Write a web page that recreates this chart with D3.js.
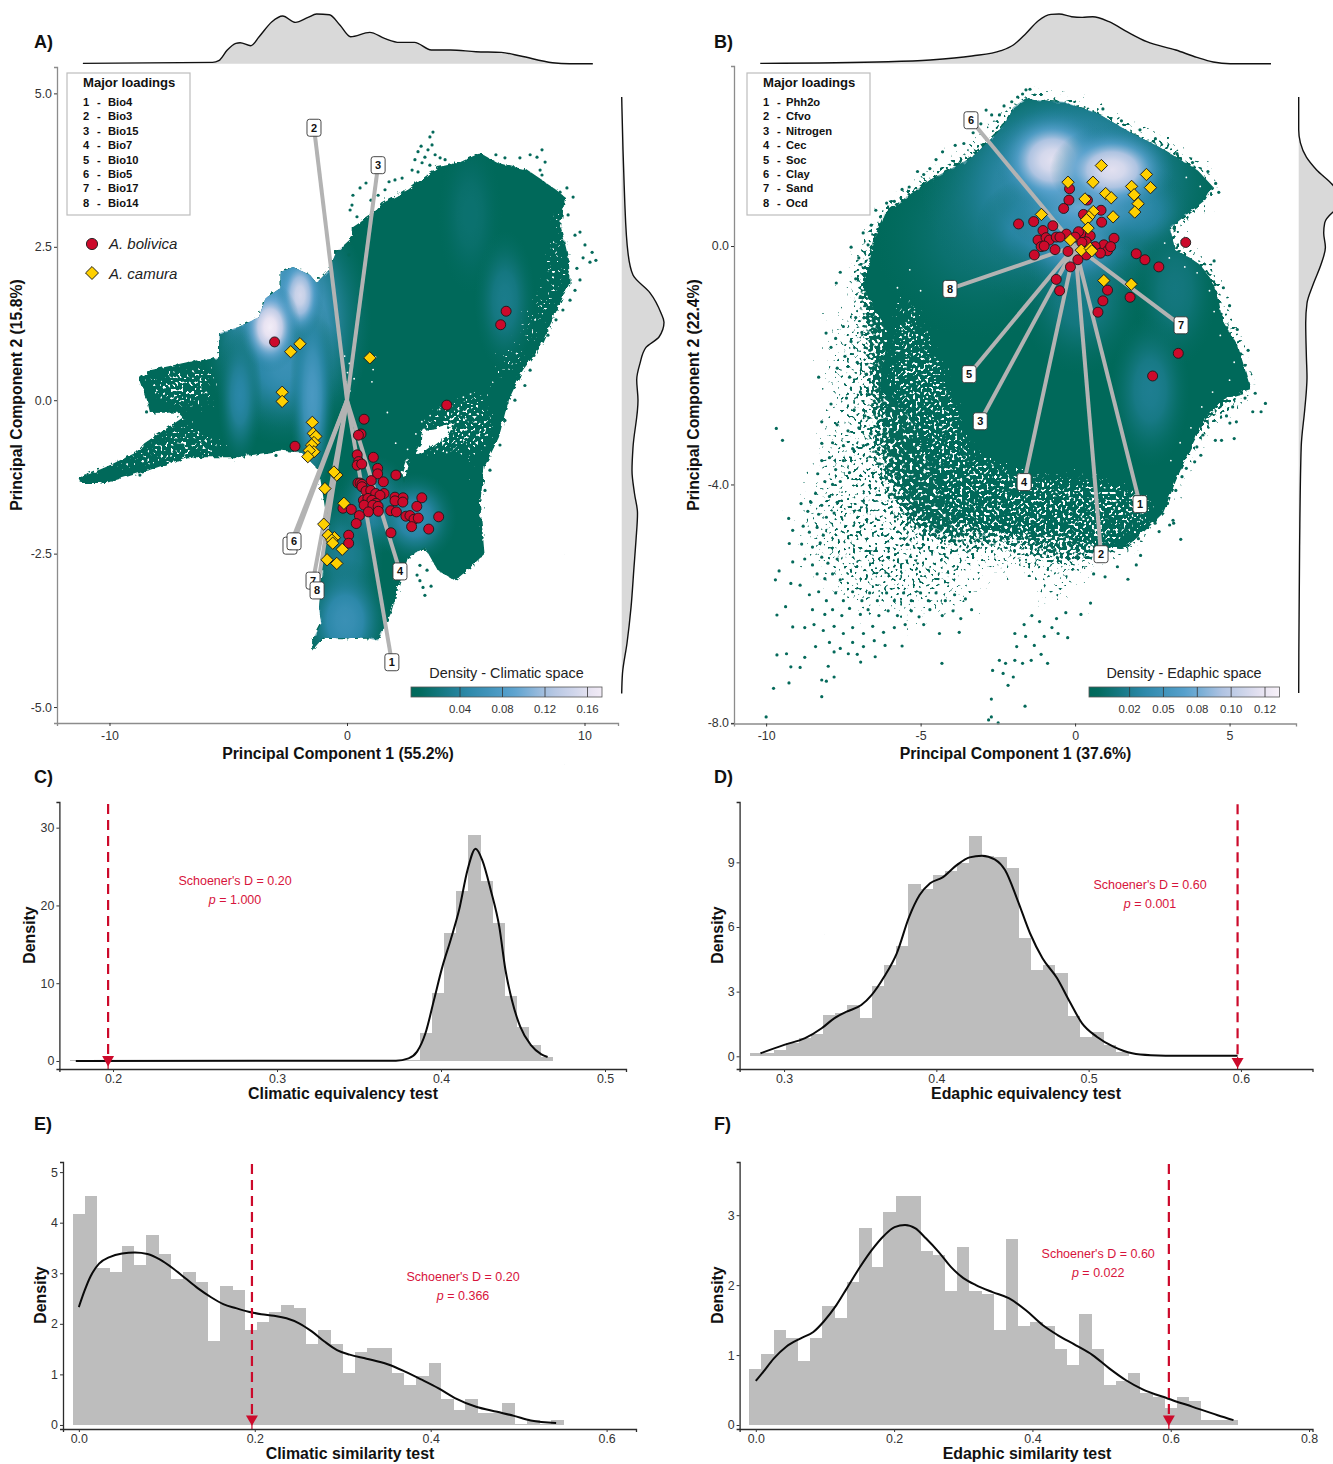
<!DOCTYPE html>
<html><head><meta charset="utf-8">
<script src="https://cdn.jsdelivr.net/npm/d3@7/dist/d3.min.js"></script>
<style>html,body{margin:0;background:#fff}svg{display:block}text{font-family:"Liberation Sans",Arial,sans-serif}</style>
</head><body><div id="c"></div>
<script>
// ---------- DATA: panel A ----------
const loadNamesA=["Bio4","Bio3","Bio15","Bio7","Bio10","Bio5","Bio17","Bio14"];
const loadNamesB=["Phh2o","Cfvo","Nitrogen","Cec","Soc","Clay","Sand","Ocd"];
const loadEndsA=[[1.89,-4.27],[-1.39,4.44],[1.31,3.83],[2.23,-2.79],[-2.4,-2.37],[-2.23,-2.3],[-1.43,-2.94],[-1.26,-3.1]];
const loadEndsB=[[2.1,-4.33],[.84,-5.17],[-3.07,-2.94],[-1.65,-3.96],[-3.43,-2.15],[-3.37,2.11],[3.43,-1.33],[-4.05,-.72]];
const hullA=[[-11.3,-1.27],[-10.95,-1.22],[-10.15,-1.09],[-8.88,-.85],[-8.53,-.7],[-6.91,-.28],[-7.12,-.2],[-8.29,-.21],[-8.42,0],[-8.72,.33],[-8.29,.49],[-6.74,.62],[-5.39,.69],[-5.39,1.09],[-4.59,1.19],[-3.71,1.35],[-3.43,1.66],[-2.8,1.83],[-2.8,2.09],[-2.27,2.17],[-1.56,2.04],[-1.28,1.91],[-.76,2.12],[-.46,2.41],[.24,2.66],[.24,2.82],[1.14,3.05],[1.49,3.21],[2.57,3.43],[3.28,3.64],[3.83,3.8],[4.72,3.87],[5.6,4.03],[6.32,3.87],[7.58,3.75],[8.65,3.47],[9.18,3.31],[9.01,2.82],[9.35,2.28],[9.37,1.91],[8.65,1.31],[8.13,.86],[7.4,.49],[6.86,.05],[6.69,-.16],[6.4,-.6],[5.79,-1.09],[5.6,-1.68],[5.79,-2.5],[5.07,-2.77],[4.53,-2.94],[3.82,-2.77],[3.28,-2.4],[2.57,-2.56],[2.21,-2.99],[1.85,-3.47],[1.31,-3.92],[.78,-3.87],[-.29,-3.88],[-1.01,-3.87],[-1.47,-4.08],[-1.47,-3.92],[-1.09,-3.64],[-1.18,-3.38],[-1.01,-2.72],[-.84,-1.96],[-1.18,-1.14],[-1.89,-.86],[-2.8,-.82],[-4.59,-.93],[-6.74,-.93],[-8.34,-1.14],[-10.15,-1.35],[-11.2,-1.35]];
const holesA=[[[3.12,-.49],[3.64,-.46],[4.55,-.36],[4.25,-.57],[3.28,-.85],[2.82,-.86],[3.12,-.7]],[[2.48,-.98],[2.65,-.98],[2.4,-1.35],[2.3,-1.19]]];
const densityA=[[-2.61,1.3,2.7,1.5,.095],[-2.6,.55,1.9,.75,.06],[-4.51,.08,.7,.85,.045],[-1.47,.08,.7,1.3,.075],[5.18,3.02,1,.95,.012],[6.65,1.63,.95,.85,.028],[-.08,-2.53,1.2,.85,.032],[1.18,-1.71,1.2,.6,.045],[2.86,-1.92,1.3,.55,.055],[-.08,-3.59,1.4,.75,.06],[-1.98,1.71,.75,.55,.15],[-3.24,1.19,.95,.55,.175]];
const dotsA=[[3.62,4.37],[3.49,4.29],[3.58,4.16],[3.12,4.14],[3.41,4.08],[2.99,4.05],[3.71,4],[3.28,3.96],[3.92,3.95],[2.86,3.92],[3.16,3.87],[3.49,3.83],[4.13,3.92],[4.46,3.83],[2.74,3.75],[2.99,3.72],[6.27,4],[6.65,3.95],[7.28,3.95],[7.71,4],[8.21,4.08],[8,3.96],[8.34,3.88],[8.13,3.75],[8.21,3.67],[8.97,3.39],[9.26,3.46],[9.52,3.31],[9.31,3.02],[9.6,2.69],[9.81,2.74],[10.02,2.53],[10.32,2.41],[10.48,2.28],[10.23,2.25],[9.94,2.32],[9.68,2.15],[9.81,1.96],[9.6,1.79],[9.39,1.63],[9.09,1.47],[8.8,1.31],[8.46,1.06],[7.87,.73],[7.71,.49],[7.49,.24],[7.07,0],[6.65,-.33],[6.44,-.73],[5.81,-1.47],[6.02,-1.14],[.42,2.69],[.13,2.56],[.08,2.37],[.42,2.99],[.21,3.18],[.13,3.1],[.55,3.46],[.8,3.54],[.25,3.34],[.63,2.85],[1.01,3.26],[1.31,3.34],[1.77,3.56],[2.02,3.59],[2.32,3.62],[1.6,3.43],[3.37,-2.77],[3.07,-2.94],[3.28,-3.18],[3.54,-3.03],[3.2,-3.05],[2.95,-2.85],[3.07,-2.69],[-8.72,-1.22],[-7.45,-.16],[-8.44,-.19],[-6.92,-.21],[-2.99,-.9]];
const specksA=[[-.1,.72],[.1,.6],[.02,.45],[.3,.35],[-.05,.3],[.12,.15],[1.1,.5],[1.2,.7],[1.05,.3],[5.2,.1],[5,-.3],[4.7,-.15],[4.9,.05],[4.4,-.1],[3.9,-.15],[3.5,-.25],[3.15,-.35],[2.9,-.55],[2.55,-.8],[3.8,-.8],[4.2,-.85],[4.6,-.7],[2.05,-.7],[1.7,-.2]];
const whiteZonesA=[[[-8.7,.33],[-8.4,0],[-7.2,-.2],[-5.4,-.1],[-5.4,.7],[-6.7,.62],[-8.3,.49]],[[-11.3,-1.3],[-8.5,-.7],[-6.9,-.3],[-5.5,-.5],[-4.5,-.9],[-8.3,-1.15]],[[6,0],[7.3,.5],[8.5,1.3],[9.3,2],[9.2,3.2],[8.5,3.3],[8.2,2],[7,1],[5.6,.2]],[[3,-.2],[5.2,.2],[6.5,-.3],[5.8,-1],[4.5,-.9],[3,-1]],[[5.2,-1],[5.7,-1.2],[5.7,-2.5],[5.1,-2.6]]];
const boliviaA=[[-3.05,.95],[6.7,1.45],[6.47,1.23],[4.2,-.08],[.72,-.31],[.59,-.55],[.48,-.57],[-2.19,-.75],[.43,-.89],[1.11,-.93],[.49,-1],[.43,-1.06],[.62,-1.04],[1.29,-1.11],[1.29,-1.2],[2.06,-1.22],[1.02,-1.31],[1.53,-1.33],[.46,-1.35],[.55,-1.35],[.63,-1.37],[.63,-1.41],[.8,-1.48],[1,-1.47],[1.21,-1.52],[1.56,-1.52],[1.39,-1.55],[2.02,-1.58],[2.36,-1.59],[3.15,-1.59],[2.02,-1.64],[2.35,-1.66],[2.94,-1.73],[.69,-1.63],[.88,-1.6],[1.05,-1.63],[1.22,-1.68],[.72,-1.71],[1.09,-1.71],[1.31,-1.73],[-.17,-1.76],[.18,-1.78],[.9,-1.82],[1.32,-1.81],[1.84,-1.8],[2.08,-1.82],[2.48,-1.89],[2.65,-1.88],[2.82,-1.94],[3,-1.92],[2.72,-2.06],[3.86,-1.9],[3.44,-2.1],[.52,-1.88],[.39,-2.01],[1.85,-2.16],[.07,-2.2],[.07,-2.33]];
const camuraA=[[-2.37,.79],[-1.98,.92],[.96,.69],[-2.73,.13],[-2.73,-.02],[-1.46,-.36],[-1.42,-.54],[-1.31,-.59],[-1.39,-.69],[-1.49,-.73],[-1.39,-.84],[-1.59,-.82],[-1.65,-.92],[-.43,-1.22],[-.55,-1.17],[-.93,-1.44],[-.13,-1.68],[-.98,-2.02],[-.79,-2.2],[-.53,-2.24],[-.64,-2.28],[-.6,-2.33],[-.2,-2.43],[-.84,-2.6],[-.43,-2.66]];
const topA=[[-11.12,.3],[-5.66,1.3],[-5.4,3],[-5.04,13.7],[-4.68,20.3],[-4.5,21],[-4.05,18],[-3.7,27],[-3.16,42],[-2.71,47.7],[-2.17,41.3],[-1.64,46.3],[-1.28,49.7],[-.74,49],[-.3,38.7],[.15,27],[.96,31.3],[1.58,25.3],[2.21,21.3],[2.84,21.3],[3.55,13.7],[4.36,13.7],[5.43,12],[6.5,11.3],[7.31,7.7],[8.65,1],[9.37,0],[10.35,0]];
const rightA=[[4.94,0],[4.08,1.3],[3.59,2.3],[3.26,3],[2.4,6.3],[2.04,11.3],[1.75,28.3],[1.42,39.3],[1.27,42.3],[1.03,37.3],[.86,24.3],[.6,18.3],[.33,15],[0,16.3],[-.77,11.3],[-1.14,10.3],[-1.52,12.8],[-1.84,15.8],[-2.28,14.3],[-2.72,12.3],[-3.38,9.3],[-3.96,5.3],[-4.45,.8],[-4.78,0]];
// ---------- DATA: panel B ----------
const hullB=[[-2.01,2.33],[-1.59,2.48],[-1.33,2.45],[-.39,2.42],[.71,2.23],[1.78,1.91],[2.72,1.66],[3.95,1.28],[4.47,.99],[4.21,.77],[3.4,.44],[3.07,.3],[3.24,-.07],[3.72,-.2],[4.05,-.32],[4.34,-.52],[4.61,-.79],[4.76,-1.24],[5.28,-1.69],[5.7,-2.42],[4.76,-2.58],[4.21,-2.92],[3.66,-3.47],[3.27,-3.93],[2.85,-4.48],[2.18,-4.82],[1.65,-5.05],[.71,-5.05],[-.65,-4.82],[-1.59,-4.82],[-2.4,-4.8],[-4.01,-4.6],[-4.56,-3.93],[-5.24,-2.92],[-6.31,-2.42],[-6.31,-2.3],[-6.05,-1.46],[-6.86,-.69],[-6.44,.22],[-6.18,.55],[-4.69,1.11],[-3.33,1.49],[-2.52,1.9],[-2.14,2.16]];
const cloudB=[[-6.5,.4],[-7.2,-.5],[-6.95,-1.5],[-6.75,-2.8],[-6.4,-3.8],[-5.6,-4.7],[-4.6,-5],[-3.4,-5.1],[-2.4,-5.05],[-1.4,-5.2],[-.6,-5.35],[.6,-5.3],[2,-5],[3,-4.2],[3.6,-3.5],[4.3,-3],[5.3,-2.6],[5.8,-2.4],[5.3,-1.6],[4.8,-1],[4.5,-.4],[4.1,-.25],[3.2,0],[3.2,.4],[4.3,.75],[4.6,1],[4,1.35],[2.8,1.75],[1.7,2],[.7,2.3],[-.4,2.5],[-1.5,2.55],[-2.1,2.3],[-2.6,2],[-3.4,1.6],[-4.7,1.2],[-6.2,.65]];
const sparseZoneB=[[-6.9,-.5],[-7.5,-.6],[-8.2,-1.5],[-8.33,-3.37],[-9.14,-4.77],[-8.2,-5.83],[-6.98,-6.28],[-3.34,-6.28],[-3.07,-5.61],[-2.4,-5.3],[-1.59,-5.83],[-.92,-6.44],[.43,-5.83],[.7,-5.38],[2,-4.8],[-4,-4],[-6,-1.5]];
const whiteZonesB=[[[-6.3,-2.4],[-6,-1.4],[-5.8,-.5],[-5,-1],[-4,-2.2],[-3.2,-3.4],[-1,-3.8],[1,-3.8],[2.2,-4],[2.9,-4.6],[1,-5.2],[-2.5,-5.2],[-4.2,-4.8],[-5.2,-3.2]]];
const densityB=[[-3,.2,2.6,1.3,.012],[.2,-.8,1.5,1,.02],[-.16,1.02,3.6,1.55,.055],[3.24,-.74,1,.95,.016],[2.43,-2.42,.95,.95,.024],[-1.29,.35,1.4,.6,.045],[0,.18,1.6,.7,.07],[2.1,.6,1.2,.55,.04],[.32,.94,2.2,.85,.08],[-.74,1.44,1.4,.65,.12],[1.2,1.28,1.5,.55,.12]];
const dotsB=[[-8.3,-2.2],[-8.06,-1.46],[-7.9,-1.7],[-7.75,-1.55],[-7.7,-2.05],[-7.5,-1.35],[-7.45,-1.85],[-7.3,-2.2],[-7.25,-1.6],[-7.1,-1.2],[-7.05,-1.95],[-6.95,-2.45],[-6.9,-1.45],[-6.8,-1],[-6.75,-2.15],[-6.65,-1.75],[-6.55,-1.25],[-6.5,-2.6],[-6.45,-2],[-7.73,-.62],[-7.6,-.44],[-7.25,-.02],[-7.1,-.55],[-7,-.2],[-6.95,-.85],[-6.86,.22],[-6.7,.02],[-6.6,.35],[-6.3,.49],[-6.45,.6],[-6.1,.72],[-5.85,.75],[-5.37,.99],[-5.6,.95],[-5.1,1.25],[-4.9,1.2],[-4.7,1.3],[-4.29,1.58],[-4.5,1.45],[-3.88,1.69],[-3.6,1.72],[-3.3,1.9],[-3.05,2.05],[-2.88,2.28],[-2.7,2.2],[-2.45,2.2],[-2.3,2.35],[-1.59,2.62],[-1.46,2.63],[-1.86,2.5],[-1.7,2.55],[-2.05,2.42],
[-7.9,-2.65],[-7.4,-2.55],[-7.15,-2.75],[-6.8,-2.85],[-6.4,-2.7],[-6.1,-2.9],[-8.2,-2.95],[-7.7,-3],[-7.35,-3.1],[-7,-3.05],[-6.6,-3.15],[-6.25,-3.25],[-5.9,-3.1],[-5.6,-3.3],[-8.2,-3.31],[-7.85,-3.3],[-7.5,-3.35],[-7.2,-3.4],[-6.85,-3.35],[-6.45,-3.45],[-6.05,-3.5],[-5.75,-3.55],[-5.3,-3.45],[-9.67,-3.06],[-9.47,-3.26],[-5.5,-3.1],
[-8.33,-3.82],[-8.2,-3.6],[-7.95,-3.55],[-7.75,-3.75],[-7.5,-3.6],[-7.3,-3.8],[-8.1,-3.95],[-7.85,-4],[-7.6,-3.95],[-8.87,-4.32],[-8.55,-4.3],[-8.4,-4.15],[-8.2,-4.35],[-7.95,-4.2],[-7.7,-4.3],[-8.65,-4.45],[-8.3,-4.5],[-8.05,-4.55],[-7.8,-4.48],
[-9.27,-4.57],[-9.14,-4.77],[-8.8,-4.7],[-8.6,-4.8],[-8.35,-4.72],[-8.15,-4.85],[-9.25,-4.99],[-8.85,-5],[-8.5,-5.05],[-8.25,-4.98],
[-9.14,-5.3],[-8.75,-5.25],[-8.5,-5.35],[-8.2,-5.22],[-8,-5.32],[-7.7,-5.25],[-9.58,-5.45],[-9.7,-5.6],[-9.2,-5.66],[-8.9,-5.69],[-8.35,-5.5],[-8.1,-5.58],[-7.85,-5.5],[-7.6,-5.6],
[-8.6,-5.85],[-8.3,-5.8],[-8.05,-5.95],[-7.75,-5.82],[-7.5,-5.95],[-7.2,-5.8],[-6.9,-5.95],[-6.65,-5.82],[-6.4,-5.95],[-6.1,-5.82],[-5.85,-5.95],[-5.55,-5.82],[-5.3,-5.95],[-5,-5.82],[-4.75,-5.95],[-4.5,-5.82],[-4.2,-5.95],[-3.9,-5.85],[-3.55,-5.92],[-9.37,-6.05],[-9.65,-6.19],[-8.5,-6.1],[-8.1,-6.18],[-7.85,-6.1],[-7.55,-6.2],[-7.3,-6.08],[-6.95,-6.18],[-6.7,-6.1],[-6.35,-6.2],[-6.05,-6.12],[-5.75,-6.2],[-5.3,-6.12],[-5.05,-6.22],[-4.7,-6.1],[-4.3,-6.2],[-3.95,-6.12],[-3.35,-6.1],[-3.7,-6.25],
[-9.14,-6.39],[-8.75,-6.4],[-8.45,-6.35],[-8.15,-6.45],[-7.8,-6.38],[-7.5,-6.5],[-7.2,-6.4],[-6.85,-6.5],[-6.55,-6.38],[-6.2,-6.48],[-5.85,-6.4],[-5.5,-6.35],[-4.9,-6.35],[-4.39,-6.5],[-3.75,-6.48],[-8.4,-6.72],[-7.95,-6.65],[-7.6,-6.75],[-7.2,-6.65],[-6.85,-6.72],[-6.5,-6.62],[-6.15,-6.7],[-5.6,-6.71],[-9.65,-6.86],[-9.34,-6.84],[-7.8,-6.81],[-7.34,-6.84],[-6.94,-6.98],[-6.47,-6.89],[-7.05,-6.85],[-8.75,-6.9],[-9.2,-7.06],[-8.9,-7.07],[-7.99,-7.05],[-7.8,-7.23],[-8.2,-7.28],[-8.2,-7.56],[-8.05,-7.3],[-9.26,-7.33],[-9.76,-7.42],[-10,-7.9],[-4.31,-7],
[1.71,-5.59],[1.98,-5.35],[2.12,-5.19],[3.42,-4.92],[3.17,-4.6],[1.37,-5.38],[.97,-5.55],[.6,-5.5],[.5,-5.99],[.19,-6.18],[-.3,-6.15],[-.6,-6.25],[-.55,-6.5],[-.75,-6.4],[-1,-6.55],[-1.32,-6.7],[-1.6,-6.55],[-.24,-6.57],[-1.89,-6.72],[-1.95,-6.5],[-1.1,-6.85],[-1.42,-6.95],[-.89,-7],[-2.67,-7.12],[-2.33,-7.17],[-2,-7.23],[-2.17,-7.37],[-2.71,-7.6],[-1.62,-7.72],[-2.8,-7.95],[-2.49,-8],[-2.71,-7.9],[-2.25,-7],[-1.7,-7],[-1.95,-6.95],[-2.45,-6.95],[-1.4,-6.2],[-1.15,-6.3],[-1.65,-6.35],
[5.83,-2.47],[6.16,-2.64],[6.02,-2.78],[5.75,-2.78],[5.22,-2.95],[5.01,-2.97],[5.15,-3.23],[4.74,-3.26],[4.54,-3.26],[4.14,-3.17],[3.94,-3.37],[4.07,-3.51],[3.87,-3.62],[3.6,-3.73],[3.46,-3.87],[3.26,-4.1],[2.99,-4.32],[3.19,-4.65],[3.06,-4.68],[2.72,-4.79],[2.59,-4.65],[2.05,-4.91],[1.71,-5.02],[5.5,-2.55],[5.1,-2.7],[4.9,-2.85],[5.5,-2],[5.6,-1.75],[5.25,-1.4],[5,-1],[4.8,-.7],[4.5,-.25],[4.65,.9],[4.55,1.05],[4.3,1.25],[3.8,1.4],[3.3,1.55],[2.6,1.8],[2.1,1.95],[1.5,2.1],[.9,2.3]];
const specksB=[[-5.8,-2.2],[-5.4,-1.9],[-5.5,-2.5],[-5.1,-2.25],[-4.8,-2.6],[-5.6,-1.4],[-5.2,-1.1],[-5.75,-.7],[-5.35,-.4],[-5,-.75],[2.9,.05],[3.05,-.2],[3.3,.15],[3.55,-.35],[3.95,-.45],[3.6,1.15],[4.05,1],[4.5,-1.1],[4.35,-.75],[5,-2.25],[5.15,-1.95],[4.7,-1.5],[3.1,-3.6],[3.4,-3.3],[3.75,-3.05],[4.1,-2.7],[4.45,-2.45]];
const boliviaB=[[-.18,.96],[.4,.77],[-.2,.77],[-.37,.63],[.27,.53],[.84,.6],[.86,.4],[-1.83,.37],[-1.34,.41],[-.72,.34],[-1.04,.26],[-.28,.2],[.19,.21],[.11,.24],[.49,.17],[1.26,.13],[-1.2,.1],[-.94,.14],[-.83,.1],[-.61,.15],[-.49,.15],[0,.15],[.36,.07],[.22,.06],[-1.1,-.01],[-1,0],[-.65,-.06],[-.23,-.09],[-1.32,-.15],[.93,.02],[1.05,-.08],[1.15,-.01],[.65,-.01],[.82,-.12],[.36,-.15],[.09,-.23],[-.15,-.35],[1.98,-.13],[2.26,-.23],[2.71,-.35],[-.61,-.56],[-.5,-.75],[1.05,-.74],[.9,-.92],[.74,-1.11],[1.78,-.86],[3.58,.06],[3.34,-1.8],[2.51,-2.18]];
const camuraB=[[.85,1.35],[-.23,1.07],[.58,1.07],[2.31,1.2],[2.44,.98],[1.83,1],[1.91,.86],[.99,.88],[1.17,.81],[.32,.79],[2.04,.71],[1.93,.57],[-1.09,.53],[.59,.58],[.45,.49],[.37,.44],[1.23,.49],[.42,.3],[-.15,.1],[.2,-.07],[.49,-.04],[.54,-.08],[.93,-.58],[1.82,-.64]];
const topB=[[-10.19,.3],[-6.05,2],[-4.69,3.7],[-3.34,7.7],[-2.4,13],[-2,18.7],[-1.59,30.3],[-1.19,43],[-.78,49.3],[-.52,49.7],[-.11,47],[.23,46.3],[.57,47],[1.1,42],[1.72,31.3],[2.32,22],[3.26,13.7],[3.94,6.3],[4.47,1.7],[5.02,0],[6.34,0]];
const rightB=[[2.5,0],[1.95,0],[1.73,1.7],[1.49,7.7],[1.28,17.7],[1.02,34.3],[.82,41],[.69,44],[.57,34.3],[.39,26],[.22,25],[-.02,26.7],[-.29,22.7],[-.65,14.3],[-.96,8.3],[-1.29,7],[-1.86,7.7],[-2.2,8.3],[-2.42,7.7],[-2.75,6],[-3.37,2.5],[-5.05,.9],[-7.5,0]];
// ---------- DATA: colour legend ----------
const legendTicksA=[.04,.08,.12,.16], legendLabelsA=["0.04","0.08","0.12","0.16"];
const legendTicksB=[.025,.05,.075,.1,.125], legendLabelsB=["0.02","0.05","0.08","0.10","0.12"];
const colourStopsA=[0,.045,.09,.125,.165,.18];
const colourStopsB=[0,.034,.068,.094,.124,.135];
const colourRange=["#00695a","#2a87a8","#5aa2cf","#b1c4e2","#e9e4f2","#f7f1f9"];
// ---------- DATA: histograms ----------
const barsC=[0,0,0,0,0,0,0,0,0,0,0,0,0,0,0,0,0,0,0,0,0,0,0,0,0,0,0,0,0,3.6,8.8,16.5,21.8,29,23.1,17.8,8.4,4.4,2.1,.5];
const curveC=[[.1773,0],[.3725,.04],[.3802,.34],[.3854,1.2],[.3905,3.56],[.3957,7.84],[.4008,12.1],[.4059,15.6],[.411,19.4],[.4162,24.6],[.4211,27.3],[.4252,25.8],[.4303,22],[.4355,17.3],[.4393,11.7],[.4432,7.84],[.4483,4.41],[.4547,2.06],[.4612,.86],[.465,.51]];
const barsD=[.15,.15,.29,.63,.84,1.04,1.9,2.03,2.4,1.78,3.26,4.25,5.13,7.98,7.75,8.41,8.6,8.98,10.22,9.29,9.23,8.72,5.5,4,4.24,3.88,1.89,.91,1.14,.53,.22];
const curveD=[[.2845,.14],[.3001,.53],[.3138,.84],[.3247,1.3],[.3329,1.76],[.3411,2.07],[.3507,2.38],[.3576,2.85],[.3658,3.7],[.374,4.78],[.3822,6.48],[.389,7.48],[.3959,8.03],[.4041,8.3],[.4136,8.88],[.4218,9.23],[.43,9.31],[.4383,9.14],[.4451,8.64],[.4533,7.25],[.4615,5.71],[.4697,4.55],[.4793,3.62],[.4875,2.54],[.4957,1.53],[.5053,.91],[.5163,.45],[.5286,.14],[.5409,.05],[.56,.02],[.5978,.02]];
const barsE=[4.18,4.53,3.1,3.03,3.53,3.17,3.75,3.38,2.89,3.03,2.82,1.67,2.75,2.67,1.88,2.03,2.24,2.38,2.32,1.6,1.88,1.6,1.02,1.44,1.52,1.52,1.02,.8,.96,1.23,.52,.3,.52,.23,.23,.44,.01,.09,.02,.09];
const curveE=[[0,2.33],[.0062,2.64],[.0134,2.94],[.023,3.19],[.035,3.32],[.0493,3.39],[.0637,3.41],[.078,3.38],[.0924,3.27],[.1068,3.1],[.1211,2.9],[.1355,2.7],[.1499,2.53],[.1642,2.39],[.1786,2.31],[.193,2.24],[.2073,2.19],[.2217,2.16],[.2361,2.11],[.2504,2.01],[.2648,1.85],[.2792,1.65],[.2935,1.48],[.3079,1.39],[.3271,1.31],[.351,1.2],[.3702,1.06],[.3893,.9],[.4085,.73],[.4276,.53],[.4516,.36],[.4755,.26],[.4947,.18],[.5138,.09],[.5426,.04]];
const barsF=[.8,1.02,1.36,1.24,.91,1.24,1.7,1.53,2.04,2.82,2.26,3.05,3.27,3.27,2.49,2.43,1.92,2.54,1.92,1.87,1.36,2.66,1.41,1.47,1.41,1.08,.86,1.59,1.08,.57,.63,.74,.46,.4,.24,.4,.35,.07,.07,.07];
const curveF=[[0,.63],[.0108,.76],[.0259,.95],[.044,1.12],[.0651,1.24],[.0832,1.33],[.0983,1.48],[.1163,1.71],[.1314,1.95],[.1495,2.24],[.1676,2.5],[.1857,2.71],[.2007,2.83],[.2158,2.86],[.2309,2.81],[.2459,2.67],[.264,2.48],[.2821,2.26],[.3002,2.1],[.3183,2],[.3424,1.9],[.3665,1.81],[.3906,1.64],[.4147,1.43],[.4358,1.29],[.4629,1.14],[.487,1],[.5111,.81],[.5353,.64],[.5594,.51],[.5955,.38],[.6317,.26],[.6679,.14],[.6908,.07]];

const W=1333,H=1464,FONT='"Liberation Sans",Arial,sans-serif',GREEN="#04695a",RED="#cc0a2b",REDT="#d7143c",YEL="#ffd000";
const svg=d3.select("#c").append("svg").attr("width",W).attr("height",H).attr("viewBox",`0 0 ${W} ${H}`);
const defs=svg.append("defs");
svg.append("rect").attr("width",W).attr("height",H).attr("fill","#fff");

// grain texture: a fixed noise mask standing in for the tens of thousands of overlapping cloud points;
// coverage fades with the blurred shape of the zone, so the zone has no hard edge
function softGrain(id,std,w,thr,freq,seed,colour){
  const f=defs.append("filter").attr("id",id).attr("filterUnits","userSpaceOnUse").attr("x",0).attr("y",0).attr("width",W).attr("height",H).attr("color-interpolation-filters","sRGB");
  f.append("feGaussianBlur").attr("in","SourceAlpha").attr("stdDeviation",std).attr("result","b");
  f.append("feTurbulence").attr("type","fractalNoise").attr("baseFrequency",freq).attr("numOctaves",1).attr("seed",seed).attr("result","n");
  f.append("feColorMatrix").attr("in","n").attr("type","matrix").attr("values","0 0 0 0 0 0 0 0 0 0 0 0 0 0 0 0 0 0 1 0").attr("result","na");
  f.append("feComposite").attr("in","na").attr("in2","b").attr("operator","arithmetic").attr("k1",0).attr("k2",1).attr("k3",w).attr("k4",0).attr("result","s");
  f.append("feColorMatrix").attr("in","s").attr("type","matrix").attr("values",`0 0 0 0 0 0 0 0 0 0 0 0 0 0 0 0 0 0 14 ${-14*thr}`).attr("result","m");
  f.append("feFlood").attr("flood-color",colour).attr("result","c");
  f.append("feComposite").attr("in","c").attr("in2","m").attr("operator","in");
}
softGrain("gEdgeA",3.5,.5,.85,.3,3,GREEN);
softGrain("gEdgeB",13,.5,.85,.3,3,GREEN);
softGrain("gSparse",24,.3,.87,.32,9,GREEN);
softGrain("gWhite",10,.33,.9,.38,5,"#fff");
const edge=defs.append("filter").attr("id","rough").attr("filterUnits","userSpaceOnUse").attr("x",0).attr("y",0).attr("width",W).attr("height",H);
edge.append("feTurbulence").attr("type","fractalNoise").attr("baseFrequency",.16).attr("numOctaves",2).attr("seed",4).attr("result","n");
edge.append("feDisplacementMap").attr("in","SourceGraphic").attr("in2","n").attr("scale",6);

function letter(t,x,y){svg.append("text").attr("x",x).attr("y",y).attr("font-size",18).attr("font-weight","bold").attr("fill","#111").text(t);}
function hy(s){return s.replace(/\u2212/g,"-");}
function styleAxis(g,col,w,labelCol,fs){
  g.select(".domain").attr("stroke",col).attr("stroke-width",w);
  g.selectAll(".tick line").attr("stroke",labelCol);
  g.selectAll(".tick text").attr("font-size",fs).attr("fill",labelCol).attr("font-family",FONT);
}
function xTitle(t,x,y,fs){svg.append("text").attr("x",x).attr("y",y).attr("text-anchor","middle").attr("font-size",fs).attr("font-weight","bold").attr("fill","#111").text(t);}
function yTitle(t,x,y,fs){svg.append("text").attr("transform",`translate(${x},${y}) rotate(-90)`).attr("text-anchor","middle").attr("font-size",fs).attr("font-weight","bold").attr("fill","#111").text(t);}

function pcaPanel(o){
  const x=d3.scaleLinear().domain(o.xd).range(o.xr), y=d3.scaleLinear().domain(o.yd).range(o.yr);
  const col=d3.scaleLinear().domain(o.stops).range(colourRange).interpolate(d3.interpolateRgb);
  const line=d3.line().x(d=>x(d[0])).y(d=>y(d[1]));
  const hullPath=[o.hull].concat(o.holes||[]).map(p=>line(p)+"Z").join("");
  const cid="clip"+o.id;
  defs.append("clipPath").attr("id",cid).append("path").attr("d",hullPath).attr("clip-rule","evenodd");
  // outlying grain, fringe and body of the cloud
  if(o.sparse) svg.append("path").attr("d",line(o.sparse)+"Z").attr("fill",GREEN).attr("filter","url(#gSparse)");
  svg.append("path").attr("d",o.cloud?line(o.cloud)+"Z":hullPath).attr("fill-rule","evenodd").attr("fill",GREEN).attr("filter",`url(#gEdge${o.id})`);
  svg.append("path").attr("d",hullPath).attr("fill",GREEN).attr("fill-rule","evenodd").attr("filter","url(#rough)");
  const dg=svg.append("g").attr("clip-path",`url(#${cid})`);
  o.density.forEach((d,i)=>{
    const id=`rg${o.id}${i}`;
    const g=defs.append("radialGradient").attr("id",id);
    [0,.2,.4,.6,.8,1].forEach(t=>{
      const v=d[4]*Math.exp(-1.6*t*t);
      g.append("stop").attr("offset",t).attr("stop-color",col(v)).attr("stop-opacity",t<.45?1:1-(t-.45)/.55);
    });
    dg.append("ellipse").attr("cx",x(d[0])).attr("cy",y(d[1]))
      .attr("rx",Math.abs(x(d[2])-x(0))*1.35).attr("ry",Math.abs(y(d[3])-y(0))*1.35).attr("fill",`url(#${id})`);
  });
  svg.append("g").attr("filter","url(#gWhite)").selectAll("path").data(o.whiteZones).join("path").attr("d",d=>line(d)+"Z").attr("fill","#fff");
  svg.append("g").selectAll("circle").data(o.specks).join("circle").attr("cx",d=>x(d[0])).attr("cy",d=>y(d[1])).attr("r",.9).attr("fill","#fff");
  svg.append("g").selectAll("circle").data(o.dots).join("circle").attr("cx",d=>x(d[0])).attr("cy",d=>y(d[1])).attr("r",1.6).attr("fill",GREEN);
  // loadings
  svg.append("g").selectAll("line").data(o.ends).join("line").attr("x1",x(0)).attr("y1",y(0)).attr("x2",d=>x(d[0])).attr("y2",d=>y(d[1])).attr("stroke","#b3b3b3").attr("stroke-width",4);
  // points
  svg.append("g").selectAll("circle").data(o.bol).join("circle").attr("cx",d=>x(d[0])).attr("cy",d=>y(d[1])).attr("r",5).attr("fill",RED).attr("stroke","#1a1a1a").attr("stroke-width",.9);
  const dia=d3.symbol().type(d3.symbolSquare).size(76);
  svg.append("g").selectAll("path").data(o.cam).join("path").attr("d",dia).attr("transform",d=>`translate(${x(d[0])},${y(d[1])}) rotate(45)`).attr("fill",YEL).attr("stroke","#1a1a1a").attr("stroke-width",.9);
  // loading labels
  const lab=svg.append("g").selectAll("g").data(o.ends).join("g").attr("transform",d=>`translate(${x(d[0])},${y(d[1])})`);
  lab.append("rect").attr("x",-7).attr("y",-8.5).attr("width",14).attr("height",17).attr("rx",2.5).attr("fill","#fff").attr("stroke","#333").attr("stroke-width",.9);
  lab.append("text").attr("text-anchor","middle").attr("y",4).attr("font-size",11).attr("font-weight","bold").attr("fill","#111").text((d,i)=>i+1);
  // axes
  const gx=svg.append("g").attr("transform",`translate(0,${o.yr[0]})`).call(d3.axisBottom(x).tickValues(o.xt).tickFormat(v=>hy(d3.format("d")(v))).tickSize(3).tickPadding(5));
  styleAxis(gx,"#8c8c8c",1.3,"#333",12.4);
  const gy=svg.append("g").attr("transform",`translate(${o.xr[0]},0)`).call(d3.axisLeft(y).tickValues(o.yt).tickFormat(v=>hy(d3.format(".1f")(v))).tickSize(3).tickPadding(2));
  styleAxis(gy,"#8c8c8c",1.3,"#333",12.4);
  xTitle(o.xt_,o.xtx,759,15.8); yTitle(o.yt_,o.ytx,395,15.8);
  // marginal densities
  const tx=x, ty=d3.scaleLinear().domain([0,50]).range([63.7,13.7]);
  const rx=d3.scaleLinear().domain([0,50]).range([o.rb,o.rb+50]);
  const ta=d3.area().curve(d3.curveMonotoneX).x(d=>tx(d[0])).y0(ty(0)).y1(d=>ty(d[1]));
  const tl=d3.line().curve(d3.curveMonotoneX).x(d=>tx(d[0])).y(d=>ty(d[1]));
  svg.append("path").attr("d",ta(o.top)).attr("fill","#d9d9d9");
  svg.append("path").attr("d",tl(o.top)).attr("fill","none").attr("stroke","#111").attr("stroke-width",1.4);
  const rs=o.right.slice().reverse();
  const ra=d3.area().curve(d3.curveMonotoneY).y(d=>y(d[0])).x0(rx(0)).x1(d=>rx(d[1]));
  const rl=d3.line().curve(d3.curveMonotoneY).y(d=>y(d[0])).x(d=>rx(d[1]));
  svg.append("path").attr("d",ra(rs)).attr("fill","#d9d9d9");
  svg.append("path").attr("d",rl(rs)).attr("fill","none").attr("stroke","#111").attr("stroke-width",1.4);
  // loading legend box
  const b=svg.append("g");
  b.append("rect").attr("x",o.bx).attr("y",73).attr("width",123).attr("height",142).attr("fill","#fff").attr("stroke","#bdbdbd").attr("stroke-width",1.2);
  b.append("text").attr("x",o.bx+16).attr("y",87).attr("font-size",13.1).attr("font-weight","bold").attr("fill","#111").text("Major loadings");
  o.names.forEach((n,i)=>{
    const yy=106+i*14.4;
    b.append("text").attr("x",o.bx+16).attr("y",yy).attr("font-size",11.2).attr("font-weight","bold").attr("fill","#111").text(i+1);
    b.append("text").attr("x",o.bx+30).attr("y",yy).attr("font-size",11.2).attr("font-weight","bold").attr("fill","#111").text("-");
    b.append("text").attr("x",o.bx+o.nameDx).attr("y",yy).attr("font-size",11.2).attr("font-weight","bold").attr("fill","#111").text(n);
  });
  // colour legend
  const lx=d3.scaleLinear().domain(o.legTickDom).range(o.legTickPx);
  const gid="bar"+o.id, lg=defs.append("linearGradient").attr("id",gid);
  d3.range(0,1.001,.05).forEach(t=>{const v=lx.invert(o.legR[0]+t*(o.legR[1]-o.legR[0]));lg.append("stop").attr("offset",t).attr("stop-color",col(Math.max(0,v)));});
  svg.append("text").attr("x",o.legTx).attr("y",678).attr("text-anchor","middle").attr("font-size",14.4).attr("fill","#222").text(o.legT);
  svg.append("rect").attr("x",o.legR[0]).attr("y",687).attr("width",o.legR[1]-o.legR[0]).attr("height",10).attr("fill",`url(#${gid})`).attr("stroke","#555").attr("stroke-width",.8);
  svg.append("g").selectAll("line").data(o.legTicks).join("line").attr("x1",d=>lx(d)).attr("x2",d=>lx(d)).attr("y1",687).attr("y2",697).attr("stroke","#333").attr("stroke-width",.8);
  svg.append("g").selectAll("text").data(o.legTicks).join("text").attr("x",d=>lx(d)).attr("y",713).attr("text-anchor","middle").attr("font-size",11.4).attr("fill","#333").text((d,i)=>o.legLabels[i]);
}

pcaPanel({id:"A",xd:[-12.21,11.41],xr:[57,618],yd:[-5.26,5.43],yr:[723,67],hull:hullA,holes:holesA,whiteZones:whiteZonesA,density:densityA,dots:dotsA,specks:specksA,ends:loadEndsA,bol:boliviaA,cam:camuraA,xt:[-10,0,10],yt:[-5,-2.5,0,2.5,5],xt_:"Principal Component 1 (55.2%)",xtx:338,yt_:"Principal Component 2 (15.8%)",ytx:22,top:topA,right:rightA,rb:621.7,bx:67,names:loadNamesA,nameDx:41,stops:colourStopsA,legTickDom:[.04,.16],legTickPx:[460,587.5],legR:[411,602],legTicks:legendTicksA,legLabels:legendLabelsA,legT:"Density - Climatic space",legTx:506.5});
pcaPanel({id:"B",xd:[-11.04,7.15],xr:[734,1296],yd:[-8.01,3.02],yr:[723.5,66],hull:hullB,holes:[],cloud:cloudB,sparse:sparseZoneB,whiteZones:whiteZonesB,density:densityB,dots:dotsB,specks:specksB,ends:loadEndsB,bol:boliviaB,cam:camuraB,xt:[-10,-5,0,5],yt:[-8,-4,0],xt_:"Principal Component 1 (37.6%)",xtx:1015.5,yt_:"Principal Component 2 (22.4%)",ytx:699,top:topB,right:rightB,rb:1298.7,bx:747,names:loadNamesB,nameDx:39,stops:colourStopsB,legTickDom:[.025,.125],legTickPx:[1129.6,1265],legR:[1089,1279.6],legTicks:legendTicksB,legLabels:legendLabelsB,legT:"Density - Edaphic space",legTx:1184});

// species legend
svg.append("circle").attr("cx",92).attr("cy",244).attr("r",5.6).attr("fill",RED).attr("stroke","#1a1a1a").attr("stroke-width",.9);
svg.append("path").attr("d",d3.symbol().type(d3.symbolSquare).size(84)).attr("transform","translate(92,273) rotate(45)").attr("fill",YEL).attr("stroke","#1a1a1a").attr("stroke-width",.9);
svg.append("text").attr("x",109).attr("y",248.5).attr("font-size",15).attr("font-style","italic").attr("fill","#222").text("A. bolivica");
svg.append("text").attr("x",109).attr("y",279).attr("font-size",15).attr("font-style","italic").attr("fill","#222").text("A. camura");

function histPanel(o){
  const x=d3.scaleLinear().domain(o.xd).range(o.xr), y=d3.scaleLinear().domain(o.yd).range(o.yr);
  svg.append("g").attr("shape-rendering","crispEdges").selectAll("rect").data(o.bars).join("rect")
    .attr("x",(d,i)=>x(o.x0+i*o.bw)).attr("width",(d,i)=>x(o.x0+(i+1)*o.bw)-x(o.x0+i*o.bw)+.4)
    .attr("y",d=>y(d)-(d===0?1:0)).attr("height",d=>Math.max(1,y(0)-y(d)+(d===0?1:0))).attr("fill","#bdbdbd");
  svg.append("path").datum(o.curve).attr("d",d3.line().curve(d3.curveMonotoneX).x(d=>x(d[0])).y(d=>y(d[1]))).attr("fill","none").attr("stroke","#0a0a0a").attr("stroke-width",2);
  svg.append("line").attr("x1",x(o.obs)).attr("x2",x(o.obs)).attr("y1",y(o.vTop)).attr("y2",o.yr[0]-8).attr("stroke",RED).attr("stroke-width",2.2).attr("stroke-dasharray","10 6");
  svg.append("line").attr("x1",x(o.obs)).attr("x2",x(o.obs)).attr("y1",o.yr[0]-12).attr("y2",o.yr[0]).attr("stroke",RED).attr("stroke-width",1.2);
  svg.append("path").attr("d",d3.symbol().type(d3.symbolTriangle).size(62)).attr("transform",`translate(${x(o.obs)},${y(o.arrow)}) rotate(180)`).attr("fill",RED);
  svg.append("text").attr("x",x(o.tx)).attr("y",y(o.ty[0])).attr("text-anchor","middle").attr("font-size",12.5).attr("fill",REDT).text(o.label);
  const t2=svg.append("text").attr("x",x(o.tx)).attr("y",y(o.ty[1])).attr("text-anchor","middle").attr("font-size",12.5).attr("fill",REDT);
  t2.append("tspan").attr("font-style","italic").text("p");
  t2.append("tspan").text(" = "+o.p);
  const gx=svg.append("g").attr("transform",`translate(0,${o.yr[0]})`).call(d3.axisBottom(x).tickValues(o.xt).tickFormat(d3.format(".1f")).tickSize(3).tickPadding(2));
  styleAxis(gx,"#2b2b2b",1.3,"#333",12.4);
  const gy=svg.append("g").attr("transform",`translate(${o.xr[0]},0)`).call(d3.axisLeft(y).tickValues(o.yt).tickFormat(d3.format("d")).tickSize(3).tickPadding(2));
  styleAxis(gy,"#2b2b2b",1.3,"#333",12.4);
  xTitle(o.title,o.titleX,o.titleY,15.9); yTitle("Density",o.dx,o.dy,15.9);
}
histPanel({xd:[.1673,.5128],xr:[59.4,626],yd:[-1.03,33.3],yr:[1069,802],bars:barsC,x0:.1735,bw:.00737,curve:curveC,obs:.197,vTop:33.05,arrow:.19,tx:.2744,ty:[22.6,20.2],label:"Schoener's D = 0.20",p:"1.000",xt:[.2,.3,.4,.5],yt:[0,10,20,30],title:"Climatic equivalency test",titleX:343,titleY:1099,dx:35,dy:935});
histPanel({xd:[.2708,.647],xr:[739.6,1312.5],yd:[-.59,11.8],yr:[1069,802],bars:barsD,x0:.2774,bw:.00802,curve:curveD,obs:.5978,vTop:11.7,arrow:-.24,tx:.5403,ty:[7.76,6.88],label:"Schoener's D = 0.60",p:"0.001",xt:[.3,.4,.5,.6],yt:[0,3,6,9],title:"Edaphic equivalency test",titleX:1026,titleY:1099,dx:722.5,dy:935});
histPanel({xd:[-.018,.6334],xr:[63,636],yd:[-.08,5.2],yr:[1429,1162],bars:barsE,x0:-.0072,bw:.01396,curve:curveE,obs:.1968,vTop:5.16,arrow:.12,tx:.4368,ty:[2.85,2.47],label:"Schoener's D = 0.20",p:"0.366",xt:[0,.2,.4,.6],yt:[0,1,2,3,4,5],title:"Climatic similarity test",titleX:350,titleY:1459,dx:46,dy:1295});
histPanel({xd:[-.0234,.805],xr:[739.6,1312.5],yd:[-.057,3.76],yr:[1429,1162],bars:barsF,x0:-.0096,bw:.01766,curve:curveF,obs:.5973,vTop:3.73,arrow:.086,tx:.4951,ty:[2.39,2.12],label:"Schoener's D = 0.60",p:"0.022",xt:[0,.2,.4,.6,.8],yt:[0,1,2,3],title:"Edaphic similarity test",titleX:1027,titleY:1459,dx:722.5,dy:1295});

[["A)",34,48],["B)",714,48],["C)",34,783],["D)",714,783],["E)",34,1130],["F)",714,1130]].forEach(d=>letter(d[0],d[1],d[2]));
</script></body></html>
